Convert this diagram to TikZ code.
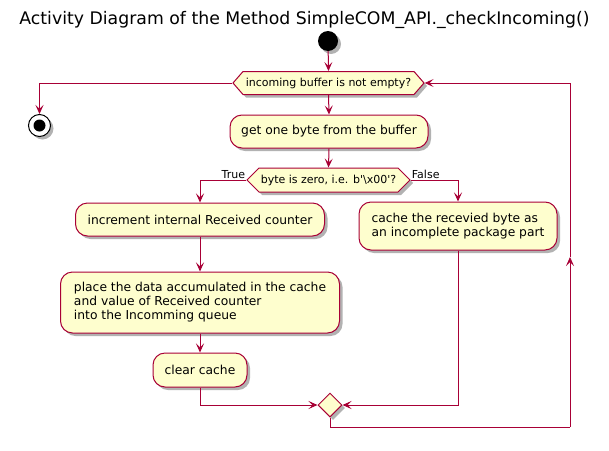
\documentclass[tikz,border=0pt]{standalone}
\usepackage{fontspec}
\setmainfont{DejaVu Sans}
\usetikzlibrary{shapes.symbols,shapes.geometric,shadows,arrows.meta}
\definecolor{pumlfill}{HTML}{FEFECE}
\definecolor{pumlline}{HTML}{A80036}
\begin{document}
\begin{tikzpicture}[x=1pt,y=-1pt,
  shad/.style={drop shadow={shadow xshift=3pt,shadow yshift=-3pt,opacity=0.3,fill=black}},
  act/.style={draw=pumlline,fill=pumlfill,line width=1pt,rounded corners=12pt,
    inner sep=0pt,align=left,font=\fontsize{12.3}{14}\selectfont,shad},
  hex/.style={signal,signal to=west and east,draw=pumlline,fill=pumlfill,line width=1pt,
    inner sep=0pt,font=\fontsize{11}{13}\selectfont,shad},
  merge/.style={diamond,draw=pumlline,fill=pumlfill,line width=1pt,inner sep=0pt,
    minimum width=24pt,minimum height=24pt,shad},
  conn/.style={draw=pumlline,line width=1pt},
  arr/.style={conn,-{Stealth[length=9pt,width=8pt,inset=4pt]}},
  lbl/.style={font=\fontsize{11}{13}\selectfont,inner sep=1pt}]
\useasboundingbox (0,0) rectangle (609,450);
\node (title) at (304.5,20) {\fontsize{17.3}{20}\selectfont Activity Diagram of the Method SimpleCOM\_API.\_checkIncoming()};
\node[circle,fill=black,minimum size=20pt,inner sep=0pt,shad] (start) at (328,41) {};
\node[hex,signal pointer angle=98,minimum width=191pt,minimum height=23pt] (h1) at (328.5,83) {incoming buffer is not empty?};
\node[circle,draw=black,fill=white,line width=1pt,minimum size=22pt,inner sep=0pt,shad] (stop) at (39.5,125.5) {};
\node[circle,fill=black,minimum size=12pt,inner sep=0pt] (stopin) at (stop.center) {};
\node[act,minimum width=198pt,minimum height=33pt] (get) at (329,131.5) {get one byte from the buffer};
\node[hex,signal pointer angle=90,minimum width=163pt,minimum height=24pt] (h2) at (328.5,180) {byte is zero, i.e. b\textquotesingle\textbackslash x00\textquotesingle?};
\node[act,minimum width=249pt,minimum height=33pt] (inc) at (200,219.5) {increment internal Received counter};
\node[act,minimum width=198pt,minimum height=48pt] (cache) at (458,226) {cache the recevied byte as\\an incomplete package part};
\node[act,minimum width=279pt,minimum height=61pt] (place) at (200,302.5) {place the data accumulated in the cache\\and value of Received counter\\into the Incomming queue};
\node[act,minimum width=94pt,minimum height=34pt] (clear) at (200,370) {clear cache};
\node[merge] (mg) at (330,405) {};
\coordinate (lp1) at (570,427);
\coordinate (lpm) at (570,257);
\coordinate (lp2) at (570,83);
\coordinate (mgb) at (330,427);
\draw[arr] (start) -- (h1.north);
\draw[arr] (h1.west) -| (stop.north);
\draw[arr] (h1.south) -- (get.north);
\draw[arr] (get.south) -- (h2.north);
\draw[arr] (h2.west) -| (inc.north);
\node[lbl,anchor=south east] (tlbl) at (h2.west) {True};
\draw[arr] (h2.east) -| (cache.north);
\node[lbl,anchor=south west] (flbl) at (h2.east) {False};
\draw[arr] (inc.south) -- (place.north);
\draw[arr] (place.south) -- (clear.north);
\draw[arr] (clear.south) |- (mg.west);
\draw[arr] (cache.south) |- (mg.east);
\draw[conn] (mg.south) -- (mgb) -- (lp1);
\draw[arr] (lp1) -- (lpm);
\draw[arr] (lpm) -- (lp2) -- (h1.east);
\end{tikzpicture}
\end{document}
